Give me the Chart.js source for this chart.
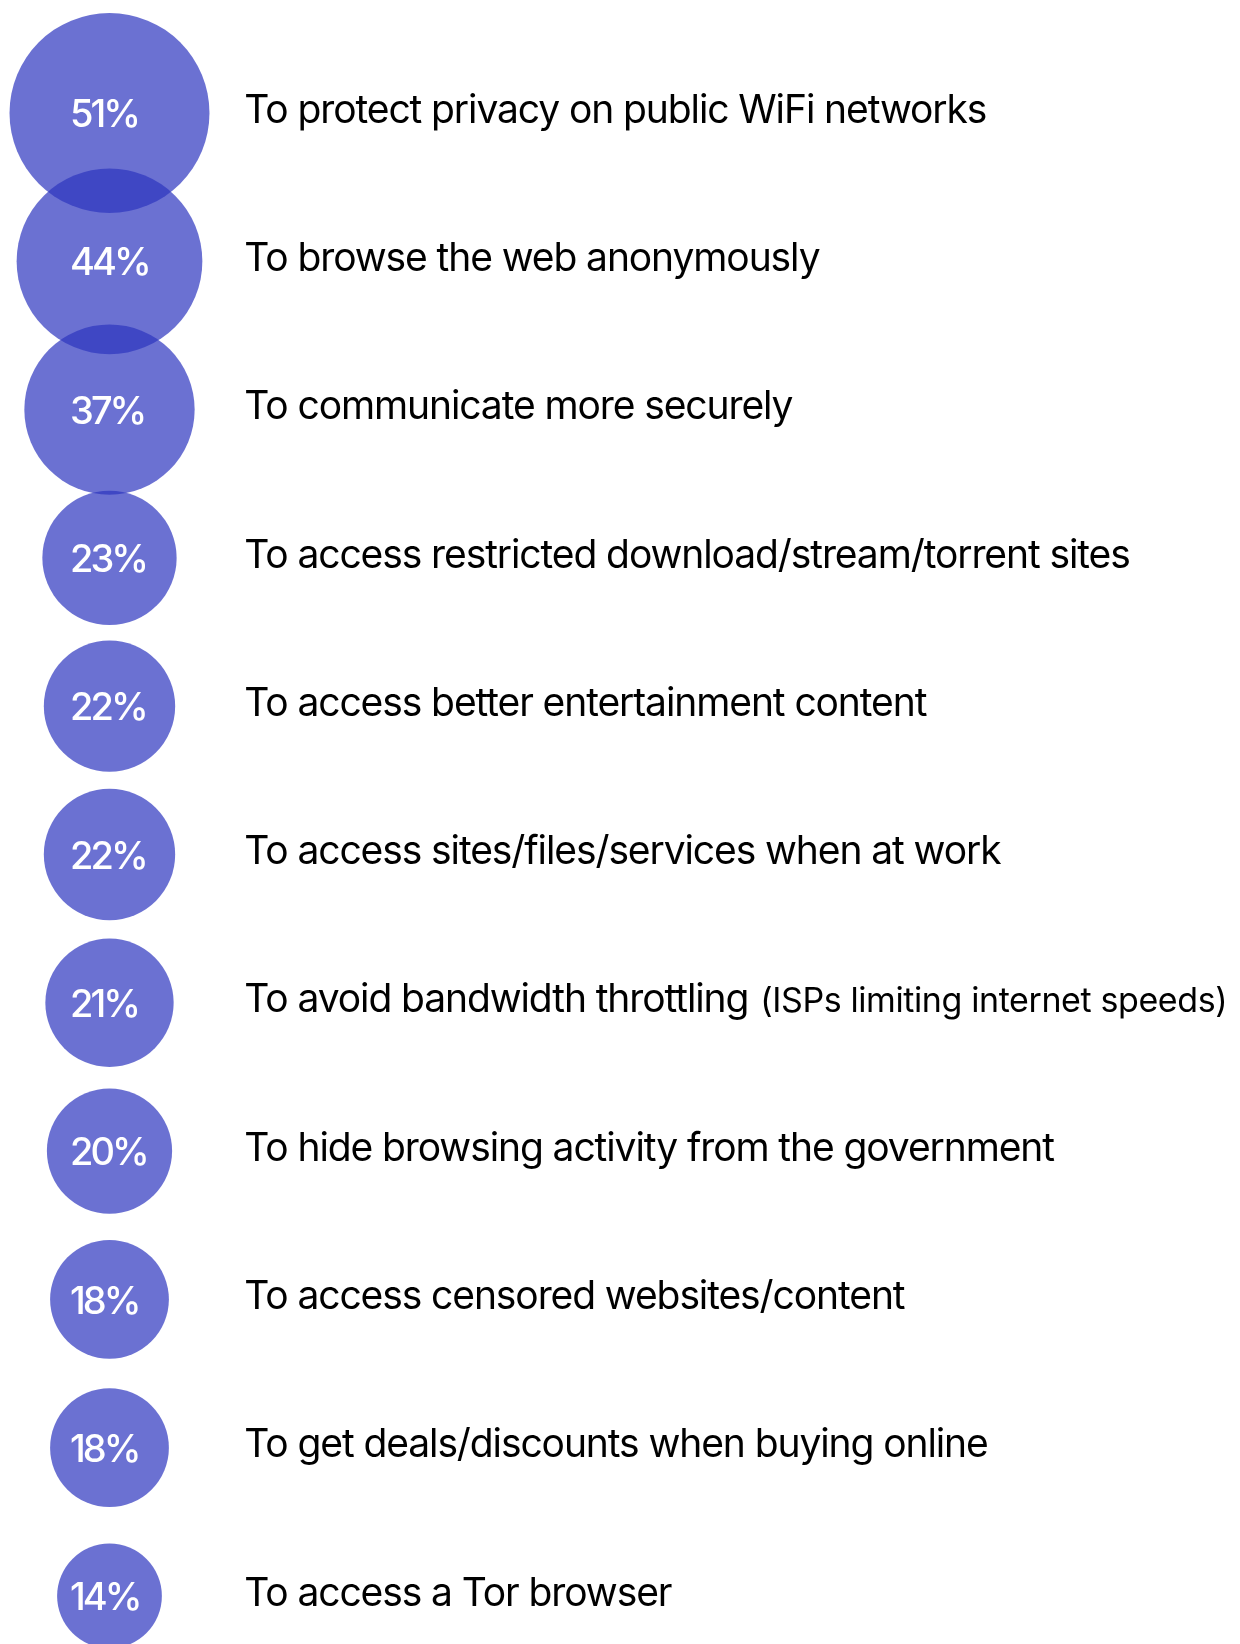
<!DOCTYPE html>
<html>
<head>
<meta charset="utf-8">
<script src="https://cdn.jsdelivr.net/npm/chart.js@4/dist/chart.umd.min.js"></script>
<style>
  html, body { margin: 0; padding: 0; background: #ffffff; }
  #wrap { width: 1240px; height: 1644px; }
</style>
</head>
<body>
<div id="wrap"><canvas id="reasons" width="1240" height="1644"></canvas></div>
<script>
// Reasons for using a VPN, share of respondents (%)
const reasons = [
  'To protect privacy on public WiFi networks',
  'To browse the web anonymously',
  'To communicate more securely',
  'To access restricted download/stream/torrent sites',
  'To access better entertainment content',
  'To access sites/files/services when at work',
  'To avoid bandwidth throttling',
  'To hide browsing activity from the government',
  'To access censored websites/content',
  'To get deals/discounts when buying online',
  'To access a Tor browser'
];
const reasonNotes = ['', '', '', '', '', '', '(ISPs limiting internet speeds)', '', '', '', ''];
const shares = [51, 44, 37, 23, 22, 22, 21, 20, 18, 18, 14];

// Horizontal placement, in units of the x scale (0..100 across the canvas)
const BUBBLE_X = 8.83;
const VALUE_X = 5.65;
const LABEL_X = 19.7;
// Bubble area grows with the share
const RADIUS_PER_SQRT = 14;

const rowLabels = {
  id: 'rowLabels',
  afterDatasetsDraw(chart) {
    const { ctx, scales: { x, y } } = chart;
    ctx.save();
    ctx.textAlign = 'left';
    ctx.textBaseline = 'alphabetic';
    shares.forEach((v, i) => {
      const cy = y.getPixelForValue(i);
      // value inside the bubble
      ctx.fillStyle = '#ffffff';
      ctx.font = '500 38px Inter';
      ctx.letterSpacing = '-3px';
      ctx.fillText(v + '%', x.getPixelForValue(VALUE_X), cy + 14.2);
      // reason text to the right
      const lx = x.getPixelForValue(LABEL_X);
      ctx.fillStyle = '#000000';
      ctx.font = '400 39px Inter';
      ctx.letterSpacing = '-1.1px';
      ctx.fillText(reasons[i], lx, cy + 9.7);
      if (reasonNotes[i]) {
        const w = ctx.measureText(reasons[i] + ' ').width;
        ctx.font = '400 34px Inter';
        ctx.letterSpacing = '-0.4px';
        ctx.fillText(reasonNotes[i], lx + w + 2, cy + 9.7);
      }
    });
    ctx.restore();
  }
};

new Chart(document.getElementById('reasons'), {
  type: 'bubble',
  data: {
    datasets: [{
      data: shares.map((v, i) => ({ x: BUBBLE_X, y: i, r: RADIUS_PER_SQRT * Math.sqrt(v) })),
      backgroundColor: 'rgba(47, 55, 192, 0.71)',
      borderWidth: 0,
      hoverRadius: 0,
      hoverBorderWidth: 0,
      clip: false
    }]
  },
  options: {
    responsive: false,
    animation: false,
    events: [],
    layout: { padding: 0, autoPadding: false },
    plugins: { legend: { display: false }, tooltip: { enabled: false } },
    scales: {
      x: { type: 'linear', min: 0, max: 100, display: false },
      y: { type: 'linear', min: -0.762, max: 10.324, reverse: true, display: false }
    }
  },
  plugins: [rowLabels]
});
</script>
</body>
</html>
